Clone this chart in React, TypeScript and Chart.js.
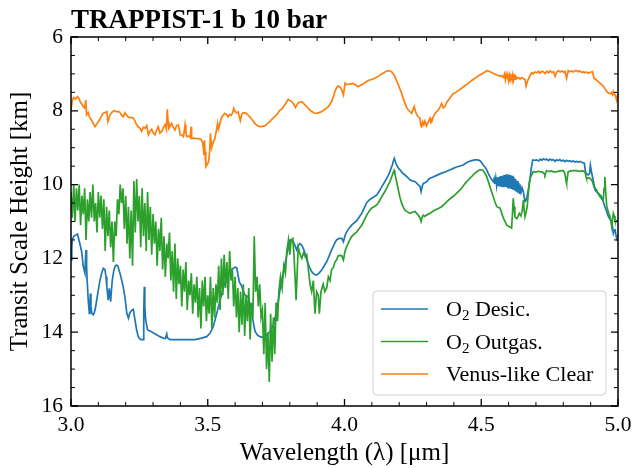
import { useEffect, useRef } from 'react';
import { Chart, registerables } from 'chart.js';

Chart.register(...registerables);

const SERIF = '"Liberation Serif", "Times New Roman", serif';

const titleText = 'TRAPPIST-1 b 10 bar';
const xAxisTitle = 'Wavelength (λ) [μm]';
const yAxisTitle = 'Transit Scale Height [km]';

const xRange = [3.0, 5.0];
const yRange = [6, 16];
const xMajorStep = 0.5;
const xMinorStep = 0.1;
const yMajorStep = 2;
const yMinorStep = 0.5;

const seriesNames = ['O2 Desic.', 'O2 Outgas.', 'Venus-like Clear'];
const seriesColors = ['#1f77b4', '#2ca02c', '#ff7f0e'];

// [wavelength µm, transit scale height km]
const o2Desic: [number, number][] = [
  [3.000,12.04],[3.003,11.70],[3.005,11.50],[3.010,11.40],[3.015,11.37],[3.020,11.36],[3.024,11.34],[3.029,11.50],[3.034,11.65],[3.039,11.82],[3.045,12.22],[3.051,12.40],[3.053,12.00],[3.055,11.77],[3.057,12.20],[3.059,12.59],[3.063,13.13],[3.067,13.49],[3.069,13.20],[3.071,12.95],[3.073,13.30],[3.076,13.49],[3.082,13.53],[3.088,13.40],[3.094,13.13],[3.100,12.85],[3.106,12.59],[3.112,12.40],[3.118,12.27],[3.124,12.30],[3.128,12.50],[3.131,12.77],[3.136,13.13],[3.140,12.81],[3.145,13.17],[3.148,12.85],[3.151,12.59],[3.156,12.35],[3.161,12.22],[3.166,12.18],[3.171,12.20],[3.179,12.40],[3.185,12.58],[3.191,12.77],[3.197,13.04],[3.204,13.49],[3.210,13.62],[3.214,13.50],[3.218,13.44],[3.223,13.40],[3.228,13.38],[3.234,13.67],[3.240,13.94],[3.246,14.12],[3.251,14.18],[3.256,14.20],[3.264,14.20],[3.266,13.50],[3.268,12.77],[3.270,13.30],[3.273,13.67],[3.280,13.94],[3.293,13.98],[3.303,14.03],[3.313,14.07],[3.325,14.12],[3.337,14.16],[3.345,14.17],[3.350,14.05],[3.352,14.15],[3.362,14.20],[3.380,14.20],[3.405,14.20],[3.430,14.20],[3.453,14.20],[3.478,14.16],[3.496,14.12],[3.508,14.03],[3.520,13.85],[3.533,13.49],[3.545,13.13],[3.555,12.86],[3.563,12.63],[3.575,12.40],[3.584,12.32],[3.593,12.27],[3.600,12.24],[3.606,12.25],[3.615,12.63],[3.624,12.75],[3.630,12.90],[3.636,12.99],[3.648,13.04],[3.655,13.25],[3.661,13.49],[3.667,13.75],[3.673,13.98],[3.682,14.08],[3.691,14.12],[3.700,14.14],[3.709,14.12],[3.718,14.06],[3.728,13.98],[3.740,13.80],[3.750,13.49],[3.757,13.20],[3.764,12.86],[3.773,12.50],[3.782,12.18],[3.789,11.90],[3.795,11.68],[3.801,11.50],[3.807,11.52],[3.813,11.55],[3.819,11.65],[3.825,11.77],[3.831,11.65],[3.837,11.60],[3.843,11.64],[3.849,11.72],[3.855,11.85],[3.862,12.04],[3.871,12.22],[3.880,12.36],[3.889,12.43],[3.898,12.45],[3.907,12.40],[3.917,12.31],[3.926,12.20],[3.935,12.09],[3.944,11.93],[3.953,11.77],[3.962,11.62],[3.971,11.50],[3.980,11.46],[3.990,11.46],[3.996,11.55],[4.002,11.38],[4.008,11.28],[4.017,11.18],[4.026,11.10],[4.035,11.04],[4.045,10.98],[4.054,10.88],[4.063,10.78],[4.072,10.64],[4.081,10.49],[4.090,10.42],[4.099,10.37],[4.108,10.33],[4.118,10.28],[4.127,10.18],[4.136,10.06],[4.145,9.95],[4.154,9.83],[4.160,9.75],[4.166,9.65],[4.172,9.52],[4.175,9.47],[4.178,9.38],[4.182,9.29],[4.186,9.38],[4.191,9.47],[4.197,9.55],[4.203,9.60],[4.212,9.68],[4.221,9.74],[4.230,9.80],[4.239,9.87],[4.248,9.90],[4.258,9.92],[4.264,9.96],[4.270,10.01],[4.276,10.05],[4.280,10.19],[4.284,10.05],[4.288,9.97],[4.294,9.95],[4.301,9.92],[4.307,9.86],[4.313,9.83],[4.322,9.80],[4.331,9.77],[4.343,9.73],[4.355,9.69],[4.368,9.66],[4.380,9.62],[4.389,9.59],[4.398,9.56],[4.407,9.53],[4.416,9.51],[4.425,9.49],[4.434,9.47],[4.443,9.42],[4.453,9.38],[4.465,9.35],[4.477,9.33],[4.486,9.33],[4.495,9.35],[4.501,9.40],[4.507,9.47],[4.514,9.53],[4.520,9.60],[4.526,9.70],[4.532,9.79],[4.538,9.86],[4.544,9.92],[4.547,9.84],[4.550,9.98],[4.553,9.82],[4.556,10.02],[4.559,9.80],[4.562,10.04],[4.565,9.79],[4.568,10.05],[4.571,9.77],[4.574,10.06],[4.577,9.76],[4.580,10.05],[4.583,9.74],[4.586,10.06],[4.589,9.73],[4.592,10.07],[4.595,9.72],[4.598,10.08],[4.601,9.73],[4.604,10.10],[4.607,9.74],[4.610,10.12],[4.613,9.76],[4.616,10.14],[4.619,9.80],[4.622,10.16],[4.625,9.84],[4.628,10.19],[4.631,9.90],[4.634,10.22],[4.637,9.95],[4.640,10.25],[4.643,10.00],[4.646,10.20],[4.650,10.10],[4.654,10.19],[4.657,10.35],[4.660,10.46],[4.664,10.42],[4.668,10.30],[4.673,10.10],[4.678,9.87],[4.683,9.55],[4.688,9.33],[4.695,9.34],[4.703,9.33],[4.710,9.36],[4.716,9.31],[4.722,9.34],[4.728,9.30],[4.734,9.33],[4.739,9.31],[4.745,9.35],[4.751,9.31],[4.757,9.34],[4.763,9.32],[4.769,9.37],[4.775,9.33],[4.781,9.35],[4.787,9.32],[4.793,9.36],[4.800,9.34],[4.806,9.38],[4.812,9.34],[4.818,9.37],[4.824,9.35],[4.830,9.38],[4.836,9.36],[4.843,9.39],[4.849,9.37],[4.855,9.39],[4.861,9.37],[4.869,9.40],[4.877,9.42],[4.880,9.60],[4.883,9.69],[4.887,9.72],[4.891,9.74],[4.896,9.70],[4.899,9.47],[4.901,9.47],[4.904,9.70],[4.907,9.79],[4.911,9.95],[4.916,10.15],[4.922,10.20],[4.928,10.24],[4.934,10.28],[4.940,10.33],[4.946,10.46],[4.952,10.60],[4.959,10.74],[4.965,10.87],[4.971,10.94],[4.977,11.00],[4.980,11.15],[4.983,11.32],[4.986,11.25],[4.989,11.20],[4.992,11.35],[4.995,11.46],[4.998,11.40],[5.000,11.45]
];

const o2Outgas: [number, number][] = [
  [3.000,10.2],[3.005,10.9],[3.010,10.0],[3.015,11.0],[3.020,10.1],[3.025,10.7],[3.030,10.0],[3.035,11.1],[3.040,10.3],[3.045,10.8],[3.050,10.1],[3.055,11.5],[3.060,10.4],[3.065,11.0],[3.070,10.2],[3.075,10.9],[3.080,10.0],[3.085,11.0],[3.090,10.5],[3.095,11.3],[3.100,10.2],[3.105,10.9],[3.110,10.3],[3.115,11.2],[3.120,10.4],[3.125,11.8],[3.130,10.6],[3.135,11.4],[3.140,10.7],[3.145,11.7],[3.150,11.0],[3.155,12.1],[3.160,11.0],[3.165,11.4],[3.170,10.4],[3.175,10.8],[3.180,10.0],[3.185,10.5],[3.190,10.1],[3.195,11.2],[3.200,10.3],[3.205,11.6],[3.210,10.6],[3.215,12.0],[3.220,10.7],[3.225,12.2],[3.230,9.9],[3.235,11.3],[3.240,9.85],[3.245,11.0],[3.250,10.3],[3.255,11.7],[3.260,10.1],[3.265,11.4],[3.270,10.5],[3.275,11.8],[3.280,10.2],[3.285,11.5],[3.290,10.6],[3.295,11.9],[3.300,10.8],[3.305,11.6],[3.310,11.0],[3.315,12.2],[3.320,11.2],[3.325,11.8],[3.330,10.9],[3.335,12.3],[3.340,11.4],[3.345,12.5],[3.350,11.6],[3.355,12.0],[3.360,11.3],[3.365,12.6],[3.370,11.8],[3.375,12.9],[3.380,11.6],[3.385,13.1],[3.390,12.0],[3.395,12.7],[3.400,12.2],[3.405,13.3],[3.410,12.3],[3.415,12.9],[3.420,12.1],[3.425,13.4],[3.430,12.6],[3.435,13.0],[3.440,12.4],[3.445,13.5],[3.450,12.7],[3.455,13.2],[3.460,12.5],[3.465,13.6],[3.470,12.8],[3.475,13.9],[3.480,12.6],[3.485,13.3],[3.490,12.5],[3.495,13.7],[3.500,13.0],[3.505,13.5],[3.510,12.5],[3.515,13.9],[3.520,12.8],[3.525,13.6],[3.530,12.7],[3.535,13.2],[3.540,12.2],[3.545,13.4],[3.550,12.0],[3.555,13.0],[3.560,11.9],[3.565,12.8],[3.570,12.1],[3.575,13.1],[3.580,11.8],[3.585,12.6],[3.590,12.3],[3.595,13.3],[3.600,12.5],[3.605,13.6],[3.610,12.8],[3.615,14.0],[3.620,12.9],[3.625,13.8],[3.630,12.7],[3.635,14.1],[3.640,13.0],[3.645,13.7],[3.650,12.8],[3.655,14.2],[3.660,13.2],[3.665,13.6],[3.670,11.4],[3.675,12.9],[3.680,12.5],[3.685,13.3],[3.690,12.7],[3.695,13.6],[3.700,13.4],[3.705,14.6],[3.710,13.2],[3.715,15.0],[3.720,14.0],[3.725,15.35],[3.730,13.5],[3.735,14.8],[3.740,13.6],[3.745,14.6],[3.750,13.2],[3.755,13.7],[3.760,12.9],[3.766,12.5],[3.772,12.8],[3.778,12.2],[3.784,12.4],[3.789,11.8],[3.795,11.5],[3.800,11.9],[3.805,11.5],[3.811,11.46],[3.816,12.0],[3.823,13.13],[3.828,12.2],[3.831,11.7],[3.838,11.9],[3.844,12.0],[3.850,11.85],[3.856,11.95],[3.862,11.9],[3.868,12.3],[3.874,12.7],[3.880,12.9],[3.886,12.6],[3.892,13.5],[3.898,12.9],[3.904,13.0],[3.908,13.5],[3.914,12.9],[3.922,12.7],[3.928,12.9],[3.935,12.8],[3.941,12.5],[3.947,12.6],[3.953,12.3],[3.959,12.25],[3.965,12.1],[3.971,12.04],[3.977,11.93],[3.984,11.92],[3.990,11.93],[3.996,12.04],[4.002,11.80],[4.008,11.68],[4.017,11.53],[4.026,11.41],[4.035,11.34],[4.045,11.28],[4.054,11.19],[4.063,11.10],[4.072,10.97],[4.081,10.83],[4.090,10.72],[4.099,10.64],[4.108,10.60],[4.118,10.55],[4.127,10.45],[4.136,10.33],[4.145,10.22],[4.154,10.10],[4.160,10.01],[4.166,9.92],[4.171,9.82],[4.175,9.74],[4.178,9.68],[4.181,9.62],[4.184,9.70],[4.187,9.79],[4.192,9.97],[4.197,10.15],[4.203,10.35],[4.209,10.51],[4.215,10.61],[4.221,10.69],[4.230,10.74],[4.239,10.78],[4.248,10.75],[4.258,10.73],[4.264,10.78],[4.270,10.83],[4.276,10.90],[4.280,11.00],[4.284,10.88],[4.288,10.83],[4.294,10.86],[4.301,10.82],[4.307,10.80],[4.313,10.78],[4.322,10.73],[4.331,10.69],[4.343,10.65],[4.355,10.60],[4.368,10.51],[4.380,10.42],[4.392,10.35],[4.404,10.28],[4.416,10.19],[4.428,10.10],[4.440,9.98],[4.453,9.87],[4.465,9.78],[4.477,9.69],[4.486,9.64],[4.495,9.60],[4.501,9.60],[4.507,9.62],[4.514,9.70],[4.520,9.79],[4.526,9.92],[4.532,10.06],[4.538,10.20],[4.544,10.33],[4.550,10.47],[4.557,10.60],[4.563,10.62],[4.569,10.64],[4.575,10.78],[4.581,10.91],[4.587,11.00],[4.593,11.10],[4.598,11.12],[4.603,11.14],[4.607,11.16],[4.611,11.18],[4.614,10.80],[4.617,10.37],[4.620,10.60],[4.623,10.87],[4.627,10.90],[4.630,10.92],[4.635,10.85],[4.639,10.78],[4.645,10.85],[4.650,10.70],[4.654,10.42],[4.657,10.70],[4.660,10.87],[4.664,10.75],[4.668,10.60],[4.672,10.25],[4.676,9.92],[4.680,9.80],[4.684,9.74],[4.690,9.65],[4.700,9.66],[4.708,9.64],[4.715,9.65],[4.724,9.66],[4.730,9.70],[4.733,9.74],[4.736,9.68],[4.739,9.62],[4.748,9.65],[4.757,9.63],[4.766,9.66],[4.776,9.65],[4.788,9.63],[4.800,9.62],[4.806,9.70],[4.810,9.90],[4.812,9.97],[4.815,9.80],[4.818,9.65],[4.828,9.63],[4.838,9.62],[4.849,9.62],[4.860,9.64],[4.870,9.63],[4.879,9.65],[4.883,9.78],[4.885,9.83],[4.891,9.82],[4.898,9.83],[4.904,9.88],[4.908,9.95],[4.912,10.06],[4.917,10.10],[4.922,10.15],[4.928,10.25],[4.934,10.33],[4.940,10.38],[4.946,10.42],[4.949,10.10],[4.952,9.79],[4.955,10.20],[4.959,10.60],[4.965,10.75],[4.971,10.87],[4.977,11.14],[4.980,10.95],[4.983,10.78],[4.986,10.85],[4.989,10.95],[4.995,11.00],[5.000,10.95]
];

const venusClear: [number, number][] = [
  [3.000,7.98],[3.005,7.70],[3.010,7.64],[3.016,7.68],[3.024,7.62],[3.029,7.66],[3.033,7.75],[3.040,7.82],[3.045,7.89],[3.050,7.92],[3.054,7.71],[3.057,8.11],[3.063,8.05],[3.069,8.20],[3.075,8.25],[3.081,8.34],[3.088,8.43],[3.094,8.36],[3.100,8.29],[3.108,8.20],[3.117,8.07],[3.124,8.05],[3.131,8.02],[3.135,8.29],[3.139,8.20],[3.143,8.11],[3.150,8.04],[3.156,8.00],[3.161,8.00],[3.168,8.03],[3.174,8.02],[3.179,8.05],[3.185,8.12],[3.191,8.16],[3.197,8.05],[3.204,8.12],[3.210,8.18],[3.219,8.18],[3.228,8.20],[3.234,8.28],[3.240,8.38],[3.246,8.44],[3.252,8.47],[3.258,8.56],[3.264,8.45],[3.271,8.47],[3.277,8.40],[3.283,8.65],[3.289,8.55],[3.295,8.50],[3.301,8.60],[3.307,8.65],[3.313,8.52],[3.319,8.43],[3.325,8.60],[3.332,8.56],[3.338,8.45],[3.344,8.38],[3.349,8.50],[3.352,7.96],[3.355,8.30],[3.358,8.47],[3.363,8.40],[3.368,8.34],[3.374,8.45],[3.380,8.52],[3.386,8.40],[3.392,8.38],[3.396,8.50],[3.399,8.65],[3.405,8.66],[3.411,8.70],[3.414,8.55],[3.417,8.38],[3.420,8.60],[3.423,8.70],[3.430,8.68],[3.436,8.72],[3.439,8.43],[3.441,8.75],[3.450,8.74],[3.460,8.75],[3.468,8.76],[3.475,8.77],[3.481,8.85],[3.484,9.00],[3.486,9.20],[3.488,8.80],[3.490,9.10],[3.493,9.51],[3.498,9.45],[3.503,9.38],[3.507,9.10],[3.510,8.61],[3.514,9.00],[3.520,8.85],[3.526,8.75],[3.531,8.55],[3.536,8.34],[3.539,8.50],[3.542,8.43],[3.549,8.20],[3.556,8.12],[3.562,8.07],[3.568,8.10],[3.574,8.16],[3.580,8.10],[3.586,8.12],[3.591,8.05],[3.595,7.93],[3.600,8.02],[3.605,8.05],[3.611,8.03],[3.619,8.27],[3.624,8.10],[3.629,8.05],[3.641,8.07],[3.653,8.16],[3.663,8.25],[3.672,8.34],[3.681,8.40],[3.690,8.43],[3.700,8.42],[3.709,8.41],[3.718,8.35],[3.727,8.29],[3.736,8.22],[3.745,8.16],[3.755,8.08],[3.764,7.98],[3.770,7.96],[3.776,7.90],[3.785,7.80],[3.794,7.69],[3.800,7.72],[3.807,7.75],[3.814,7.82],[3.821,7.91],[3.826,7.84],[3.831,7.78],[3.838,7.76],[3.844,7.75],[3.853,7.82],[3.862,7.89],[3.871,7.96],[3.880,8.02],[3.889,8.06],[3.898,8.07],[3.907,8.05],[3.917,8.02],[3.929,7.96],[3.941,7.89],[3.953,7.75],[3.960,7.60],[3.965,7.48],[3.971,7.37],[3.977,7.33],[3.984,7.36],[3.990,7.44],[3.996,7.57],[4.002,7.25],[4.008,7.29],[4.014,7.28],[4.023,7.27],[4.032,7.26],[4.041,7.30],[4.050,7.35],[4.059,7.31],[4.069,7.27],[4.078,7.22],[4.087,7.18],[4.099,7.15],[4.111,7.12],[4.124,7.06],[4.136,7.00],[4.148,6.95],[4.160,6.91],[4.166,6.92],[4.172,6.94],[4.178,7.00],[4.184,7.07],[4.190,7.18],[4.197,7.30],[4.203,7.42],[4.209,7.53],[4.215,7.67],[4.221,7.80],[4.227,7.90],[4.233,7.98],[4.239,8.02],[4.245,8.07],[4.250,7.98],[4.255,7.89],[4.259,8.00],[4.264,8.11],[4.270,8.16],[4.276,8.20],[4.279,8.40],[4.282,8.43],[4.286,8.30],[4.290,8.38],[4.294,8.28],[4.300,8.41],[4.306,8.30],[4.313,8.20],[4.316,8.32],[4.319,8.30],[4.325,8.15],[4.331,8.07],[4.337,8.02],[4.343,7.98],[4.349,7.90],[4.355,7.80],[4.361,7.92],[4.367,7.89],[4.373,7.78],[4.380,7.71],[4.389,7.62],[4.398,7.53],[4.404,7.52],[4.410,7.48],[4.419,7.44],[4.428,7.39],[4.440,7.32],[4.453,7.25],[4.465,7.18],[4.477,7.12],[4.486,7.07],[4.495,7.03],[4.502,7.00],[4.511,6.96],[4.520,6.91],[4.526,6.92],[4.532,6.94],[4.545,6.99],[4.557,7.03],[4.569,7.06],[4.575,7.05],[4.581,7.09],[4.585,7.00],[4.588,7.16],[4.591,7.02],[4.594,7.14],[4.597,7.03],[4.600,7.18],[4.603,7.04],[4.606,7.16],[4.609,7.05],[4.612,7.14],[4.615,7.02],[4.618,7.17],[4.621,7.06],[4.624,7.14],[4.627,7.08],[4.630,7.12],[4.636,7.10],[4.642,7.14],[4.648,7.10],[4.654,7.13],[4.660,7.15],[4.664,7.33],[4.668,7.22],[4.672,7.15],[4.678,7.05],[4.684,6.97],[4.690,7.00],[4.696,6.95],[4.703,6.97],[4.709,6.93],[4.715,6.98],[4.721,6.93],[4.727,6.94],[4.733,6.99],[4.740,6.93],[4.746,6.97],[4.752,6.92],[4.758,6.96],[4.764,6.94],[4.770,7.07],[4.776,6.95],[4.782,6.91],[4.788,6.95],[4.795,6.92],[4.801,6.96],[4.806,6.93],[4.812,7.12],[4.818,6.91],[4.824,6.94],[4.830,6.92],[4.836,6.95],[4.843,6.91],[4.849,6.91],[4.855,6.94],[4.861,6.92],[4.867,6.96],[4.873,6.94],[4.879,6.97],[4.885,6.95],[4.891,6.98],[4.897,6.96],[4.903,6.95],[4.907,6.94],[4.912,7.12],[4.920,7.16],[4.928,7.21],[4.937,7.27],[4.946,7.33],[4.952,7.40],[4.959,7.48],[4.965,7.52],[4.971,7.54],[4.977,7.50],[4.980,7.56],[4.983,7.48],[4.986,7.55],[4.989,7.57],[4.992,7.62],[4.995,7.71],[4.998,7.60],[5.000,7.65]
];

const seriesData = [o2Desic, o2Outgas, venusClear];

const framePlugin = {
  id: 'mplFrame',
  afterDatasetsDraw(chart: any) {
    const { ctx, chartArea } = chart;
    const { left, right, top, bottom } = chartArea;
    const xs = chart.scales.x;
    const ys = chart.scales.y;
    ctx.save();
    ctx.strokeStyle = '#000';
    const nx = Math.round((xRange[1] - xRange[0]) / xMinorStep);
    for (let i = 0; i <= nx; i++) {
      const v = xRange[0] + i * xMinorStep;
      const major = Math.abs(v / xMajorStep - Math.round(v / xMajorStep)) < 1e-6;
      const len = major ? 7 : 4;
      ctx.lineWidth = major ? 1.3 : 1;
      const px = xs.getPixelForValue(v);
      ctx.beginPath();
      ctx.moveTo(px, bottom);
      ctx.lineTo(px, bottom - len);
      ctx.moveTo(px, top);
      ctx.lineTo(px, top + len);
      ctx.stroke();
    }
    const ny = Math.round((yRange[1] - yRange[0]) / yMinorStep);
    for (let i = 0; i <= ny; i++) {
      const v = yRange[0] + i * yMinorStep;
      const major = Math.abs(v / yMajorStep - Math.round(v / yMajorStep)) < 1e-6;
      const len = major ? 7 : 4;
      ctx.lineWidth = major ? 1.3 : 1;
      const py = ys.getPixelForValue(v);
      ctx.beginPath();
      ctx.moveTo(left, py);
      ctx.lineTo(left + len, py);
      ctx.moveTo(right, py);
      ctx.lineTo(right - len, py);
      ctx.stroke();
    }
    ctx.lineWidth = 1.5;
    ctx.strokeRect(left, top, right - left, bottom - top);
    ctx.restore();
  },
  afterDraw(chart: any) {
    const { ctx, chartArea } = chart;
    ctx.save();
    ctx.fillStyle = '#000';
    ctx.font = `bold 27px ${SERIF}`;
    ctx.textBaseline = 'alphabetic';
    ctx.textAlign = 'left';
    ctx.fillText(titleText, chartArea.left, 28);

    const bx = 373, by = 291, bw = 233, bh = 104, r = 4;
    ctx.beginPath();
    ctx.moveTo(bx + r, by);
    ctx.arcTo(bx + bw, by, bx + bw, by + bh, r);
    ctx.arcTo(bx + bw, by + bh, bx, by + bh, r);
    ctx.arcTo(bx, by + bh, bx, by, r);
    ctx.arcTo(bx, by, bx + bw, by, r);
    ctx.closePath();
    ctx.fillStyle = 'rgba(255,255,255,0.8)';
    ctx.fill();
    ctx.strokeStyle = '#d0d0d0';
    ctx.lineWidth = 1;
    ctx.stroke();

    const rowY = [309, 341.5, 374];
    seriesNames.forEach((name, i) => {
      const y = rowY[i];
      ctx.strokeStyle = seriesColors[i];
      ctx.lineWidth = 1.7;
      ctx.beginPath();
      ctx.moveTo(381, y);
      ctx.lineTo(428, y);
      ctx.stroke();
      ctx.fillStyle = '#000';
      ctx.textBaseline = 'alphabetic';
      const base = y + 7;
      let x = 446;
      const m = name.match(/^O2 (.*)$/);
      if (m) {
        ctx.font = `22px ${SERIF}`;
        ctx.fillText('O', x, base);
        x += ctx.measureText('O').width;
        ctx.font = `15px ${SERIF}`;
        ctx.fillText('2', x, base + 4);
        x += ctx.measureText('2').width;
        ctx.font = `22px ${SERIF}`;
        ctx.fillText(' ' + m[1], x, base);
      } else {
        ctx.font = `22px ${SERIF}`;
        ctx.fillText(name, x, base);
      }
    });
    ctx.restore();
  },
};

export default function App() {
  const ref = useRef<HTMLCanvasElement | null>(null);
  useEffect(() => {
    document.body.style.margin = '0';
    if (!ref.current) return;
    const order = [2, 1, 0];
    const chart = new Chart(ref.current, {
      type: 'line',
      data: {
        datasets: order.map((i) => ({
          label: seriesNames[i],
          data: seriesData[i].map(([x, y]) => ({ x, y })),
          borderColor: seriesColors[i],
          backgroundColor: seriesColors[i],
          borderWidth: 1.7,
          pointRadius: 0,
          fill: false,
          tension: 0,
        })),
      },
      options: {
        responsive: false,
        maintainAspectRatio: false,
        animation: false,
        events: [],
        layout: { padding: { top: 37, right: 15, left: 0, bottom: 0 } },
        plugins: {
          legend: { display: false },
          tooltip: { enabled: false },
          title: { display: false },
        },
        scales: {
          x: {
            type: 'linear',
            min: xRange[0],
            max: xRange[1],
            border: { display: false },
            grid: { display: false, drawTicks: false },
            ticks: {
              stepSize: xMajorStep,
              color: '#000',
              padding: 6,
              font: { family: SERIF, size: 21.5 },
              callback: (v: any) => Number(v).toFixed(1),
            },
            title: {
              display: true,
              text: xAxisTitle,
              color: '#000',
              font: { family: SERIF, size: 25 },
              padding: { top: 0, bottom: 0 },
            },
            afterFit: (s: any) => { s.height = 62; s.paddingLeft = 0; s.paddingRight = 0; },
          },
          y: {
            type: 'linear',
            reverse: true,
            min: yRange[0],
            max: yRange[1],
            border: { display: false },
            grid: { display: false, drawTicks: false },
            ticks: {
              stepSize: yMajorStep,
              color: '#000',
              padding: 8,
              font: { family: SERIF, size: 21.5 },
            },
            title: {
              display: true,
              text: yAxisTitle,
              color: '#000',
              font: { family: SERIF, size: 25 },
              padding: { top: 5, bottom: 0 },
            },
            afterFit: (s: any) => { s.width = 71; s.paddingTop = 0; s.paddingBottom = 0; },
          },
        },
      },
      plugins: [framePlugin],
    });
    return () => chart.destroy();
  }, []);
  return <canvas ref={ref} width={633} height={468} style={{ display: 'block' }} />;
}
